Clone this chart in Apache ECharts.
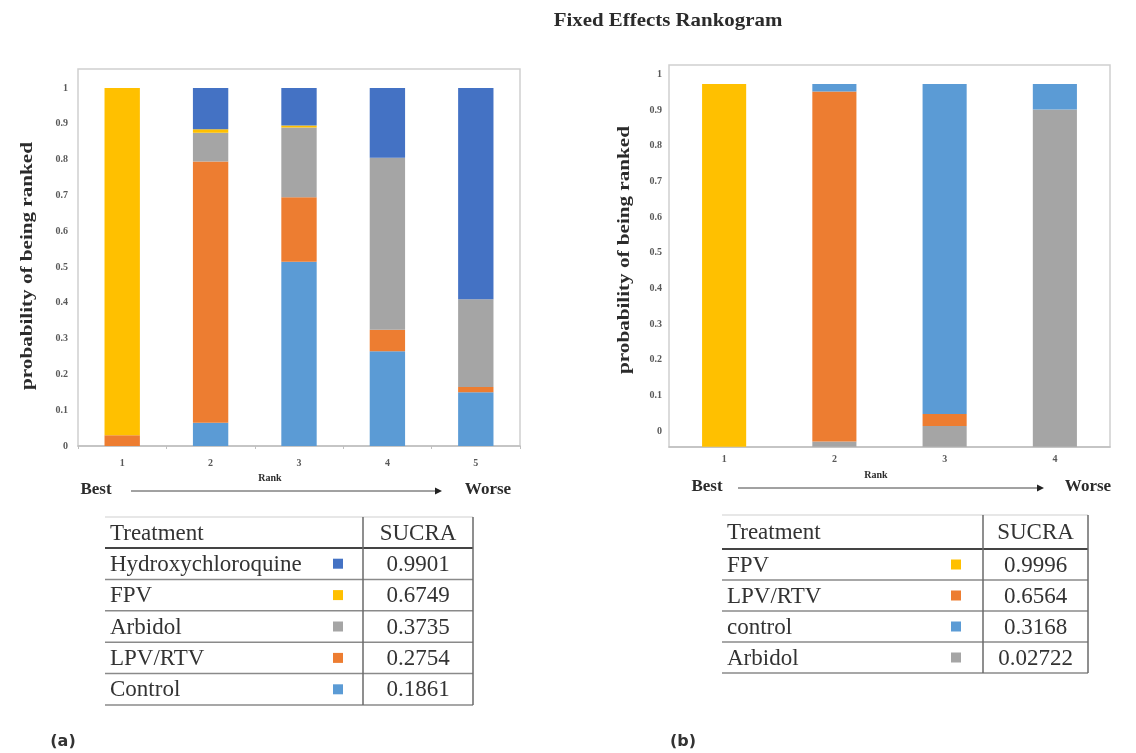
<!DOCTYPE html>
<html><head><meta charset="utf-8">
<script src="https://cdn.jsdelivr.net/npm/echarts@6/dist/echarts.min.js"></script>
<style>html,body{margin:0;padding:0;background:#fff}#c{width:1136px;height:753px}</style>
</head><body><div id="c"></div>
<script>
// ---- Panel (a) data: probability of each rank, stacked bottom -> top
const ranksA = ['1', '2', '3', '4', '5'];
const controlA = [0, 0.065, 0.515, 0.265, 0.15];
const lpvA = [0.03, 0.73, 0.18, 0.06, 0.015];
const arbidolA = [0, 0.08, 0.195, 0.48, 0.245];
const fpvA = [0.97, 0.01, 0.005, 0, 0];
const hcqA = [0, 0.115, 0.105, 0.195, 0.59];

// ---- Panel (b) data
const ranksB = ['1', '2', '3', '4'];
const arbidolB = [0, 0.014, 0.057, 0.93];
const lpvB = [0, 0.965, 0.033, 0];
const controlB = [0, 0.021, 0.91, 0.07];
const fpvB = [1.0, 0, 0, 0];

// ---- SUCRA tables
const tableNamesA = ['Hydroxychloroquine', 'FPV', 'Arbidol', 'LPV/RTV', 'Control'];
const sucraA = ['0.9901', '0.6749', '0.3735', '0.2754', '0.1861'];
const tableNamesB = ['FPV', 'LPV/RTV', 'control', 'Arbidol'];
const sucraB = ['0.9996', '0.6564', '0.3168', '0.02722'];

const COL = {
  hcq: '#4472C4', fpv: '#FFC000', arbidol: '#A5A5A5', lpv: '#ED7D31', control: '#5B9BD5'
};
const colorOfA = [COL.hcq, COL.fpv, COL.arbidol, COL.lpv, COL.control];
const colorOfB = [COL.fpv, COL.lpv, COL.control, COL.arbidol];

const SERIF = '"Liberation Serif", "Times New Roman", serif';
const tickLabel = { fontFamily: SERIF, fontWeight: 'bold', fontSize: 10, color: '#595959' };

const chart = echarts.init(document.getElementById('c'), null, { renderer: 'canvas' });

function barSeries(name, data, color, xi, yi) {
  return {
    type: 'bar', name, data, stack: 'rank' + xi, xAxisIndex: xi, yAxisIndex: yi,
    barWidth: '40%', itemStyle: { color }, emphasis: { disabled: true }, animation: false
  };
}

function tableElems(x0, x1, xDiv, top, headerBottom, pitch, names, vals, colors, sqX) {
  const els = [];
  const n = names.length;
  const bottom = headerBottom + pitch * n;
  const font = '23px ' + SERIF;
  const fill = '#333';
  els.push({ type: 'line', shape: { x1: x0, y1: top, x2: x1, y2: top }, style: { stroke: '#cfcfcf', lineWidth: 1 } });
  els.push({ type: 'line', shape: { x1: x0, y1: headerBottom, x2: x1, y2: headerBottom }, style: { stroke: '#444', lineWidth: 2 } });
  for (let i = 1; i <= n; i++) {
    const y = headerBottom + pitch * i;
    els.push({ type: 'line', shape: { x1: x0, y1: y, x2: x1, y2: y }, style: { stroke: '#8a8a8a', lineWidth: 1.5 } });
  }
  els.push({ type: 'line', shape: { x1: xDiv, y1: top, x2: xDiv, y2: bottom }, style: { stroke: '#6a6a6a', lineWidth: 1.5 } });
  els.push({ type: 'line', shape: { x1: x1, y1: top, x2: x1, y2: bottom }, style: { stroke: '#6a6a6a', lineWidth: 1.5 } });
  const hy = (top + headerBottom) / 2 + 1;
  const valX = (xDiv + x1) / 2;
  els.push({ type: 'text', style: { text: 'Treatment', x: x0 + 5, y: hy, font, fill, textAlign: 'left', align: 'left', textVerticalAlign: 'middle', verticalAlign: 'middle' } });
  els.push({ type: 'text', style: { text: 'SUCRA', x: valX, y: hy, font, fill, textAlign: 'center', align: 'center', textVerticalAlign: 'middle', verticalAlign: 'middle' } });
  for (let i = 0; i < n; i++) {
    const cy = headerBottom + pitch * (i + 0.5) + 1;
    els.push({ type: 'text', style: { text: names[i], x: x0 + 5, y: cy, font, fill, textAlign: 'left', align: 'left', textVerticalAlign: 'middle', verticalAlign: 'middle' } });
    els.push({ type: 'rect', shape: { x: sqX - 5, y: cy - 6, width: 10, height: 10 }, style: { fill: colors[i] } });
    els.push({ type: 'text', style: { text: String(vals[i]), x: valX, y: cy, font, fill, textAlign: 'center', align: 'center', textVerticalAlign: 'middle', verticalAlign: 'middle' } });
  }
  return els;
}

function txt(text, x, y, size, extra) {
  return Object.assign({
    type: 'text', x, y,
    style: { text, x: 0, y: 0, font: 'bold ' + size + 'px ' + SERIF, fill: '#2b2b2b', textAlign: 'center', align: 'center', textVerticalAlign: 'middle', verticalAlign: 'middle' }
  }, extra || {});
}

function arrow(xa, xb, y) {
  return [
    { type: 'line', shape: { x1: xa, y1: y, x2: xb - 4, y2: y }, style: { stroke: '#444', lineWidth: 1 } },
    { type: 'polygon', shape: { points: [[xb, y], [xb - 7, y - 3.5], [xb - 7, y + 3.5]] }, style: { fill: '#222' } }
  ];
}

const letterFont = 'bold 16px "DejaVu Sans", "Noto Sans", sans-serif';

const graphics = [
  txt('Fixed Effects Rankogram', 668, 21, 19, { scaleX: 1.1 }),
  { type: 'rect', shape: { x: 78, y: 69, width: 442, height: 377 }, style: { fill: 'none', stroke: '#d0d0d0', lineWidth: 1.5 } },
  { type: 'rect', shape: { x: 669, y: 65, width: 441, height: 382 }, style: { fill: 'none', stroke: '#d0d0d0', lineWidth: 1.5 } },
  txt('probability of being ranked', 28, 266, 16, { rotation: Math.PI / 2, scaleX: 1.32 }),
  txt('probability of being ranked', 625, 250, 16, { rotation: Math.PI / 2, scaleX: 1.32 }),
  txt('Rank', 270, 478, 10),
  txt('Rank', 876, 475, 10),
  txt('Best', 96, 490, 17),
  txt('Worse', 488, 490, 17),
  txt('Best', 707, 487, 17),
  txt('Worse', 1088, 487, 17),
  ...arrow(131, 442, 491),
  ...arrow(738, 1044, 488),
  { type: 'text', x: 63, y: 742, style: { text: '(a)', x: 0, y: 0, font: letterFont, fill: '#333', textAlign: 'center', align: 'center', textVerticalAlign: 'middle', verticalAlign: 'middle' } },
  { type: 'text', x: 683, y: 742, style: { text: '(b)', x: 0, y: 0, font: letterFont, fill: '#333', textAlign: 'center', align: 'center', textVerticalAlign: 'middle', verticalAlign: 'middle' } },
  ...tableElems(105, 473, 363, 517, 548, 31.4, tableNamesA, sucraA, colorOfA, 338),
  ...tableElems(722, 1088, 983, 515, 549, 31, tableNamesB, sucraB, colorOfB, 956)
];

const option = {
  backgroundColor: '#fff',
  animation: false,
  grid: [
    { left: 78, top: 88, width: 442, height: 358 },
    { left: 669, top: 84, width: 441, height: 362.7 },
    { left: 669, top: 74.3, width: 441, height: 356.7 }
  ],
  xAxis: [
    { type: 'category', gridIndex: 0, data: ranksA,
      axisLine: { lineStyle: { color: '#bfbfbf', width: 1.5 } },
      axisTick: { show: true, length: 3, lineStyle: { color: '#bfbfbf' } },
      axisLabel: Object.assign({ margin: 12, fontSize: 9 }, tickLabel) },
    { type: 'category', gridIndex: 1, data: ranksB,
      axisLine: { lineStyle: { color: '#bfbfbf', width: 1.5 } },
      axisTick: { show: false },
      axisLabel: Object.assign({ margin: 8, fontSize: 9 }, tickLabel) },
    { type: 'category', gridIndex: 2, data: ranksB, show: false }
  ],
  yAxis: [
    { type: 'value', gridIndex: 0, min: 0, max: 1, interval: 0.1,
      axisLine: { show: false }, axisTick: { show: false }, splitLine: { show: false },
      axisLabel: Object.assign({ margin: 10 }, tickLabel) },
    { type: 'value', gridIndex: 1, min: 0, max: 1, show: false, splitLine: { show: false } },
    { type: 'value', gridIndex: 2, min: 0, max: 1, interval: 0.1,
      axisLine: { show: false }, axisTick: { show: false }, splitLine: { show: false },
      axisLabel: Object.assign({ margin: 7 }, tickLabel) }
  ],
  series: [
    barSeries('Control', controlA, COL.control, 0, 0),
    barSeries('LPV/RTV', lpvA, COL.lpv, 0, 0),
    barSeries('Arbidol', arbidolA, COL.arbidol, 0, 0),
    barSeries('FPV', fpvA, COL.fpv, 0, 0),
    barSeries('Hydroxychloroquine', hcqA, COL.hcq, 0, 0),
    barSeries('Arbidol', arbidolB, COL.arbidol, 1, 1),
    barSeries('LPV/RTV', lpvB, COL.lpv, 1, 1),
    barSeries('control', controlB, COL.control, 1, 1),
    barSeries('FPV', fpvB, COL.fpv, 1, 1)
  ],
  graphic: { elements: graphics }
};
chart.setOption(option);
</script>
</body></html>
